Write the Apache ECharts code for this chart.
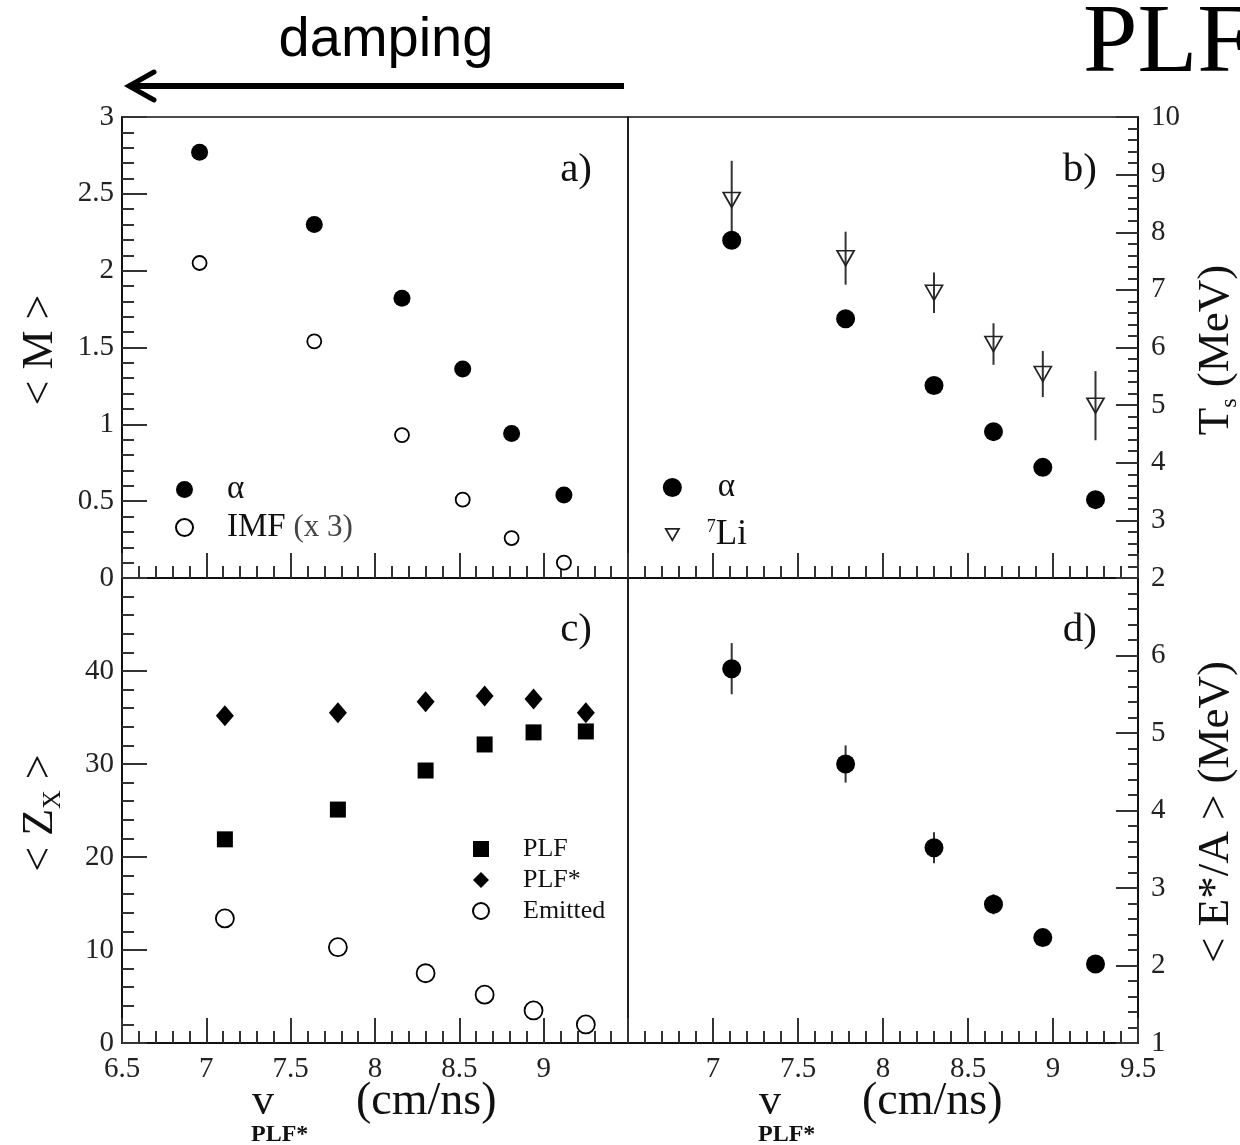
<!DOCTYPE html>
<html>
<head>
<meta charset="utf-8">
<script src="https://cdn.jsdelivr.net/npm/echarts@6/dist/echarts.min.js"></script>
<style>
html,body{margin:0;padding:0;background:#fff;}
#chart{width:1240px;height:1145px;}
</style>
</head>
<body>
<div id="chart"></div>
<script>
// ---------- DATA ----------
// Panel a) multiplicities vs v_PLF*
const vPanelA   = [6.96, 7.64, 8.16, 8.52, 8.81, 9.12];
const multAlpha = [2.77, 2.30, 1.82, 1.36, 0.94, 0.54];
const multIMFx3 = [2.05, 1.54, 0.93, 0.51, 0.26, 0.10];

// Panels b), c), d) velocity bins
const vPLF = [7.11, 7.78, 8.30, 8.65, 8.94, 9.25];

// Panel b) slope temperatures (MeV)
const tempAlpha    = [7.86, 6.50, 5.34, 4.54, 3.92, 3.36];
const tempAlphaErr = [0.14, 0.05, 0.05, 0.05, 0.05, 0.05];
const tempLi7      = [8.56, 7.55, 6.95, 6.06, 5.54, 4.99];
const tempLi7Err   = [0.68, 0.46, 0.35, 0.36, 0.40, 0.60];

// Panel c) charges
const zPLF     = [21.9, 25.1, 29.3, 32.1, 33.4, 33.5];
const zPLFstar = [35.2, 35.5, 36.7, 37.3, 37.0, 35.5];
const zEmitted = [13.4, 10.3, 7.5, 5.2, 3.5, 2.0];

// Panel d) excitation energy per nucleon (MeV)
const eStarA    = [5.83, 4.60, 3.52, 2.79, 2.36, 2.02];
const eStarAErr = [0.33, 0.24, 0.20, 0.13, 0.06, 0.05];

// Axis ranges [min, max, step]
const xRange = [6.5, 9.5, 0.5];
const yRangeA = [0, 3, 0.5];
const yRangeB = [2, 10, 1];
const yRangeC = [0, 50, 10];
const yRangeD = [1, 7, 1];

// Text
const panelTags = ['a)', 'b)', 'c)', 'd)'];
const legendLabels = {
  'alpha-M': '{g|α}',
  'IMF': '{g|IMF}{s| (x 3)}',
  'alpha-T': '{g|α}',
  'Li7': '{sup|7}{li|Li}',
  'PLF': '{c|PLF}',
  'PLF*': '{c|PLF*}',
  'Emitted': '{c|Emitted}'
};

// ---------- CHART ----------
const serif = '"Liberation Serif", "Times New Roman", serif';
const sans = '"Liberation Sans", Arial, sans-serif';
const chart = echarts.init(document.getElementById('chart'), null, {renderer: 'canvas'});

const zip = (xs, ys) => xs.map((x, i) => [x, ys[i]]);

function xAxisFor(gridIndex, showLabels, hideMin, hideMax) {
  return {
    type: 'value', gridIndex, min: xRange[0], max: xRange[1], interval: xRange[2],
    axisLine: {show: true, onZero: false, lineStyle: {color: '#111', width: 2}},
    axisTick: {show: true, inside: true, length: 25, lineStyle: {color: '#333', width: 2}},
    minorTick: {show: true, splitNumber: 5, length: 12, lineStyle: {color: '#333', width: 2}},
    splitLine: {show: false}, minorSplitLine: {show: false},
    axisLabel: {show: showLabels, margin: 12, fontFamily: serif, fontSize: 29, color: '#222',
      showMinLabel: !hideMin, showMaxLabel: !hideMax}
  };
}
function yAxisFor(gridIndex, pos, range, hideMax, majLen, minLen) {
  return {
    type: 'value', gridIndex, position: pos, min: range[0], max: range[1], interval: range[2],
    axisLine: {show: true, onZero: false, lineStyle: {color: '#111', width: 2}},
    axisTick: {show: true, inside: true, length: majLen, lineStyle: {color: '#333', width: 2}},
    minorTick: {show: true, splitNumber: 5, length: minLen, lineStyle: {color: '#333', width: 2}},
    splitLine: {show: false}, minorSplitLine: {show: false},
    axisLabel: {show: true, margin: pos === 'left' ? 8 : 13, fontFamily: serif, fontSize: 29, color: '#222',
      showMaxLabel: !hideMax}
  };
}
function errSeries(xi, yi, xs, ys, es, color) {
  return {
    type: 'custom', xAxisIndex: xi, yAxisIndex: yi, z: 1, silent: true,
    data: xs.map((x, i) => [x, ys[i] - es[i], ys[i] + es[i]]),
    encode: {x: 0, y: [1, 2]},
    renderItem: function (params, api) {
      const p1 = api.coord([api.value(0), api.value(1)]);
      const p2 = api.coord([api.value(0), api.value(2)]);
      return {type: 'line', shape: {x1: p1[0], y1: p1[1], x2: p2[0], y2: p2[1]},
        style: {stroke: color, lineWidth: 2}};
    }
  };
}
const filled = {color: '#000', opacity: 1};
const open = {color: '#fff', borderColor: '#000', borderWidth: 1.8, opacity: 1};

const legendBase = {orient: 'vertical', selectedMode: false, formatter: n => legendLabels[n]};

const option = {
  backgroundColor: '#fff',
  animation: false,
  grid: [
    {left: 122, top: 117, width: 506, height: 461, show: true, borderColor: '#111', borderWidth: 1.5},
    {left: 628, top: 117, width: 510, height: 461, show: true, borderColor: '#111', borderWidth: 1.5},
    {left: 122, top: 578, width: 506, height: 465, show: true, borderColor: '#111', borderWidth: 1.5},
    {left: 628, top: 578, width: 510, height: 465, show: true, borderColor: '#111', borderWidth: 1.5}
  ],
  xAxis: [
    xAxisFor(0, false, false, false),
    xAxisFor(1, false, false, false),
    xAxisFor(2, true, false, true),
    xAxisFor(3, true, true, false)
  ],
  yAxis: [
    yAxisFor(0, 'left', yRangeA, false, 25, 12),
    yAxisFor(1, 'right', yRangeB, false, 22, 10),
    yAxisFor(2, 'left', yRangeC, true, 25, 12),
    yAxisFor(3, 'right', yRangeD, true, 22, 10)
  ],
  legend: [
    Object.assign({}, legendBase, {
      data: ['alpha-M', 'IMF'], left: 170, top: 468, itemWidth: 17, itemHeight: 17, itemGap: 5,
      textStyle: {fontFamily: serif, fontSize: 32, lineHeight: 32, color: '#111',
        rich: {
          g: {fontFamily: serif, fontSize: 33, lineHeight: 32, color: '#111', padding: [0, 0, 0, 29]},
          s: {fontFamily: serif, fontSize: 31, lineHeight: 32, color: '#444'}
        }}
    }),
    Object.assign({}, legendBase, {
      data: [
        'alpha-T',
        {name: 'Li7', icon: 'path://M0,0 L0,0 M20,20 L20,20 M3,4 L17,4 L10,16 Z',
          itemStyle: {color: 'rgba(255,255,255,0)', borderColor: '#222', borderWidth: 1.7}}
      ],
      left: 657, top: 466, itemWidth: 19, itemHeight: 19, itemGap: 13,
      textStyle: {fontFamily: serif, fontSize: 32, lineHeight: 32, color: '#111',
        rich: {
          g: {fontFamily: serif, fontSize: 33, lineHeight: 32, color: '#111', padding: [0, 0, 0, 31]},
          sup: {fontFamily: serif, fontSize: 18, lineHeight: 32, color: '#111', verticalAlign: 'top', padding: [0, 0, 0, 20]},
          li: {fontFamily: serif, fontSize: 35, lineHeight: 32, color: '#111'}
        }}
    }),
    Object.assign({}, legendBase, {
      data: ['PLF', 'PLF*', 'Emitted'], left: 467, top: 831, itemWidth: 16, itemHeight: 16, itemGap: 5,
      textStyle: {fontFamily: serif, fontSize: 25, lineHeight: 25, color: '#111',
        rich: {c: {fontFamily: serif, fontSize: 26, lineHeight: 25, color: '#111', padding: [0, 0, 0, 29]}}}
    })
  ],
  series: [
    // a)
    {name: 'alpha-M', type: 'scatter', xAxisIndex: 0, yAxisIndex: 0, z: 2, symbol: 'circle', symbolSize: 17,
      itemStyle: filled, data: zip(vPanelA, multAlpha)},
    {name: 'IMF', type: 'scatter', xAxisIndex: 0, yAxisIndex: 0, z: 2, symbol: 'circle', symbolSize: 14,
      itemStyle: open, data: zip(vPanelA, multIMFx3)},
    // b)
    errSeries(1, 1, vPLF, tempAlpha, tempAlphaErr, '#333'),
    errSeries(1, 1, vPLF, tempLi7, tempLi7Err, '#333'),
    {name: 'alpha-T', type: 'scatter', xAxisIndex: 1, yAxisIndex: 1, z: 2, symbol: 'circle', symbolSize: 19,
      itemStyle: filled, data: zip(vPLF, tempAlpha)},
    {name: 'Li7', type: 'scatter', xAxisIndex: 1, yAxisIndex: 1, z: 2, symbol: 'triangle', symbolRotate: 180,
      symbolSize: [17, 15], itemStyle: {color: 'rgba(255,255,255,0)', borderColor: '#222', borderWidth: 1.7, opacity: 1},
      data: zip(vPLF, tempLi7)},
    // c)
    {name: 'PLF', type: 'scatter', xAxisIndex: 2, yAxisIndex: 2, z: 2, symbol: 'rect', symbolSize: 16,
      itemStyle: filled, data: zip(vPLF, zPLF)},
    {name: 'PLF*', type: 'scatter', xAxisIndex: 2, yAxisIndex: 2, z: 2, symbol: 'diamond', symbolSize: [18, 21],
      itemStyle: filled, data: zip(vPLF, zPLFstar)},
    {name: 'Emitted', type: 'scatter', xAxisIndex: 2, yAxisIndex: 2, z: 2, symbol: 'circle', symbolSize: 18,
      itemStyle: open, data: zip(vPLF, zEmitted)},
    // d)
    errSeries(3, 3, vPLF, eStarA, eStarAErr, '#333'),
    {name: 'E*/A', type: 'scatter', xAxisIndex: 3, yAxisIndex: 3, z: 2, symbol: 'circle', symbolSize: 19,
      itemStyle: filled, data: zip(vPLF, eStarA)}
  ],
  graphic: [
    // header
    {type: 'text', x: 386, y: 41, style: {text: 'damping', font: '56px ' + sans, fill: '#000',
      align: 'center', verticalAlign: 'middle', textAlign: 'center', textVerticalAlign: 'middle'}},
    {type: 'line', shape: {x1: 624, y1: 86, x2: 131, y2: 86}, style: {stroke: '#000', lineWidth: 6}},
    {type: 'polyline', shape: {points: [[154, 72], [129, 86], [154, 100]]},
      style: {stroke: '#000', lineWidth: 5, lineCap: 'round', lineJoin: 'miter', fill: null}},
    {type: 'text', x: 1083, y: 45, style: {text: 'PLF', font: '98px ' + serif, fill: '#000',
      align: 'left', verticalAlign: 'middle', textAlign: 'left', textVerticalAlign: 'middle'}},
    // panel tags
    {type: 'text', x: 592, y: 170, style: {text: panelTags[0], font: '41px ' + serif, fill: '#111', align: 'right', verticalAlign: 'middle', textAlign: 'right', textVerticalAlign: 'middle'}},
    {type: 'text', x: 1097, y: 170, style: {text: panelTags[1], font: '41px ' + serif, fill: '#111', align: 'right', verticalAlign: 'middle', textAlign: 'right', textVerticalAlign: 'middle'}},
    {type: 'text', x: 592, y: 630, style: {text: panelTags[2], font: '41px ' + serif, fill: '#111', align: 'right', verticalAlign: 'middle', textAlign: 'right', textVerticalAlign: 'middle'}},
    {type: 'text', x: 1097, y: 630, style: {text: panelTags[3], font: '41px ' + serif, fill: '#111', align: 'right', verticalAlign: 'middle', textAlign: 'right', textVerticalAlign: 'middle'}},
    // y titles left
    {type: 'text', x: 40, y: 350, rotation: Math.PI / 2, style: {text: '< M >', font: '44px ' + serif, fill: '#111',
      align: 'center', verticalAlign: 'middle', textAlign: 'center', textVerticalAlign: 'middle'}},
    {type: 'text', x: 40, y: 813, rotation: Math.PI / 2, style: {
      text: '{m|< Z}{s|X}{m| >}', align: 'center', verticalAlign: 'middle', textAlign: 'center', textVerticalAlign: 'middle',
      rich: {m: {font: '44px ' + serif, fill: '#111', color: '#111', lineHeight: 52, verticalAlign: 'middle'},
             s: {font: '26px ' + serif, fill: '#111', color: '#111', lineHeight: 24, verticalAlign: 'bottom'}}}},
    // y titles right
    {type: 'text', x: 1216, y: 350, rotation: Math.PI / 2, style: {
      text: '{m|T}{s|s}{m| (MeV)}', align: 'center', verticalAlign: 'middle', textAlign: 'center', textVerticalAlign: 'middle',
      rich: {m: {font: '45px ' + serif, fill: '#111', color: '#111', lineHeight: 52, verticalAlign: 'middle'},
             s: {font: '24px ' + serif, fill: '#111', color: '#111', lineHeight: 22, verticalAlign: 'bottom'}}}},
    {type: 'text', x: 1216, y: 812, rotation: Math.PI / 2, style: {text: '< E*/A > (MeV)', font: '45px ' + serif, fill: '#111',
      align: 'center', verticalAlign: 'middle', textAlign: 'center', textVerticalAlign: 'middle'}},
    // x titles
    {type: 'text', x: 252, y: 1102, style: {text: 'v', font: '44px ' + serif, fill: '#111', align: 'left', verticalAlign: 'middle', textAlign: 'left', textVerticalAlign: 'middle'}},
    {type: 'text', x: 251, y: 1135, style: {text: 'PLF*', font: 'bold 24px ' + serif, fill: '#111', align: 'left', verticalAlign: 'middle', textAlign: 'left', textVerticalAlign: 'middle'}},
    {type: 'text', x: 356, y: 1102, style: {text: '(cm/ns)', font: '46px ' + serif, fill: '#111', align: 'left', verticalAlign: 'middle', textAlign: 'left', textVerticalAlign: 'middle'}},
    {type: 'text', x: 759, y: 1102, style: {text: 'v', font: '44px ' + serif, fill: '#111', align: 'left', verticalAlign: 'middle', textAlign: 'left', textVerticalAlign: 'middle'}},
    {type: 'text', x: 758, y: 1135, style: {text: 'PLF*', font: 'bold 24px ' + serif, fill: '#111', align: 'left', verticalAlign: 'middle', textAlign: 'left', textVerticalAlign: 'middle'}},
    {type: 'text', x: 862, y: 1102, style: {text: '(cm/ns)', font: '46px ' + serif, fill: '#111', align: 'left', verticalAlign: 'middle', textAlign: 'left', textVerticalAlign: 'middle'}}
  ]
};
chart.setOption(option);
</script>
</body>
</html>
